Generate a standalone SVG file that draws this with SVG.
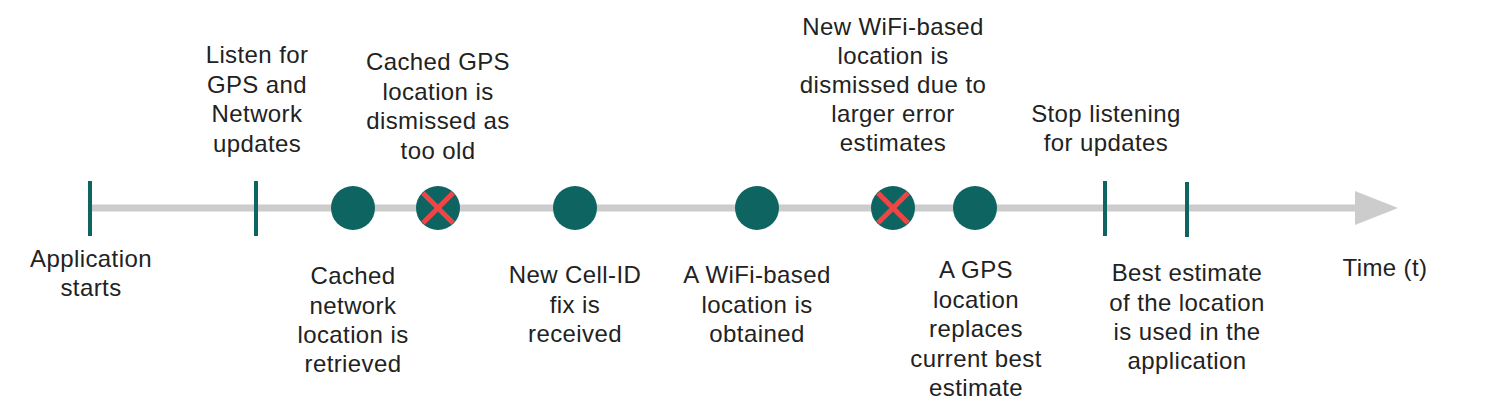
<svg xmlns="http://www.w3.org/2000/svg" width="1494" height="410" viewBox="0 0 1494 410">
<style>
text{font-family:"Liberation Sans",Arial,sans-serif;font-size:24px;fill:#222;text-anchor:middle;letter-spacing:0.4px}
.tick{stroke:#0e6461;stroke-width:4}
.dot{fill:#0e6461}
.x{stroke:#f04545;stroke-width:5;stroke-linecap:butt}
</style>
<rect width="1494" height="410" fill="#fff"/>
<g id="connectors">
<line x1="90" y1="208" x2="1358" y2="208" stroke="#cccccc" stroke-width="7"/>
<polygon points="1355,191 1398,208 1355,225" fill="#cccccc"/>
</g>
<g id="app-start"><line class="tick" x1="90" y1="181" x2="90" y2="236"/>
<text x="91" y="267">Application</text><text x="91" y="296">starts</text></g>
<g id="listen"><line class="tick" x1="256" y1="181" x2="256" y2="236"/>
<text x="257" y="63">Listen for</text><text x="257" y="92.5">GPS and</text><text x="257" y="122">Network</text><text x="257" y="151.5">updates</text></g>
<g id="cached-network"><circle class="dot" cx="353" cy="208" r="22"/>
<text x="353" y="284">Cached</text><text x="353" y="313.5">network</text><text x="353" y="343">location is</text><text x="353" y="372">retrieved</text></g>
<g id="cached-gps"><circle class="dot" cx="438" cy="208" r="22"/>
<line class="x" x1="423" y1="193" x2="453" y2="223"/><line class="x" x1="453" y1="193" x2="423" y2="223"/>
<text x="438" y="70">Cached GPS</text><text x="438" y="99.5">location is</text><text x="438" y="129">dismissed as</text><text x="438" y="158.5">too old</text></g>
<g id="cell-id"><circle class="dot" cx="575" cy="208" r="22"/>
<text x="575" y="283">New Cell-ID</text><text x="575" y="312.5">fix is</text><text x="575" y="342">received</text></g>
<g id="wifi"><circle class="dot" cx="757" cy="208" r="22"/>
<text x="757" y="283">A WiFi-based</text><text x="757" y="312.5">location is</text><text x="757" y="342">obtained</text></g>
<g id="wifi-dismissed"><circle class="dot" cx="893" cy="208" r="22"/>
<line class="x" x1="878" y1="193" x2="908" y2="223"/><line class="x" x1="908" y1="193" x2="878" y2="223"/>
<text x="893" y="35">New WiFi-based</text><text x="893" y="64">location is</text><text x="893" y="93">dismissed due to</text><text x="893" y="122">larger error</text><text x="893" y="151">estimates</text></g>
<g id="gps"><circle class="dot" cx="975" cy="208" r="22"/>
<text x="976" y="278">A GPS</text><text x="976" y="307.5">location</text><text x="976" y="337">replaces</text><text x="976" y="366.5">current best</text><text x="976" y="396">estimate</text></g>
<g id="stop"><line class="tick" x1="1105" y1="181" x2="1105" y2="236"/>
<text x="1106" y="122">Stop listening</text><text x="1106" y="151">for updates</text></g>
<g id="best"><line class="tick" x1="1187" y1="182" x2="1187" y2="237"/>
<text x="1187" y="281">Best estimate</text><text x="1187" y="310.5">of the location</text><text x="1187" y="340">is used in the</text><text x="1187" y="369">application</text></g>
<g id="time"><text x="1385" y="276">Time (t)</text></g>
</svg>
